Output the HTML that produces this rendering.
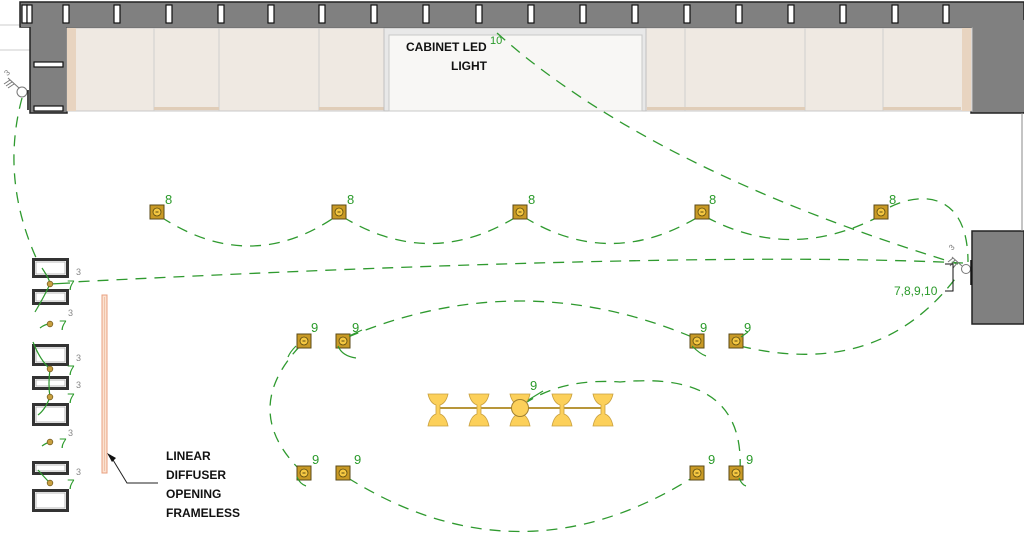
<!DOCTYPE html>
<html><head><meta charset="utf-8"><style>
html,body{margin:0;padding:0;background:#fff;}
svg{display:block;}
text{font-family:"Liberation Sans",sans-serif;}
</style></head><body>
<svg width="1024" height="557" viewBox="0 0 1024 557" xmlns="http://www.w3.org/2000/svg">
<defs>
<g id="sq"><rect x="-7" y="-7" width="14" height="14" fill="#c99a25" stroke="#5a4a18" stroke-width="1"/><circle r="4" fill="#f5c842" stroke="#5a4a10" stroke-width="0.8"/><rect x="-1.5" y="-0.5" width="3" height="1" fill="#5a4a10"/></g>
<g id="bell"><path d="M-10,-16 L10,-16 Q8,-7 2,-5 L2,4 Q8,6 10,16 L-10,16 Q-8,6 -2,4 L-2,-5 Q-8,-7 -10,-16Z" fill="#fcd05a" stroke="#c8a040" stroke-width="0.8"/></g>
</defs>
<line x1="0" y1="25" x2="20" y2="25" stroke="#ccc"/>
<line x1="0" y1="50" x2="30" y2="50" stroke="#ccc"/>
<rect x="20" y="2" width="1004" height="25" fill="#808080" stroke="#222" stroke-width="1.5"/>
<rect x="30" y="26" width="37" height="87" fill="#808080" stroke="#222" stroke-width="1.5"/>
<rect x="971" y="26" width="53" height="87" fill="#808080" stroke="#222" stroke-width="1.5"/>
<rect x="21" y="3" width="1002" height="24" fill="#808080"/>
<rect x="31" y="20" width="35" height="92" fill="#808080"/>
<rect x="972" y="20" width="52" height="92" fill="#808080"/>
<g fill="#fff" stroke="#111" stroke-width="1.2">
<rect x="22" y="5" width="5" height="18"/><rect x="27" y="5" width="5" height="18"/>
<rect x="63" y="5" width="6" height="18"/><rect x="114" y="5" width="6" height="18"/><rect x="166" y="5" width="6" height="18"/><rect x="218" y="5" width="6" height="18"/><rect x="268" y="5" width="6" height="18"/><rect x="319" y="5" width="6" height="18"/><rect x="371" y="5" width="6" height="18"/><rect x="423" y="5" width="6" height="18"/><rect x="476" y="5" width="6" height="18"/><rect x="528" y="5" width="6" height="18"/><rect x="580" y="5" width="6" height="18"/><rect x="632" y="5" width="6" height="18"/><rect x="684" y="5" width="6" height="18"/><rect x="736" y="5" width="6" height="18"/><rect x="788" y="5" width="6" height="18"/><rect x="840" y="5" width="6" height="18"/><rect x="892" y="5" width="6" height="18"/><rect x="943" y="5" width="6" height="18"/>
<rect x="34" y="62" width="29" height="5"/><rect x="34" y="106" width="29" height="5"/>
</g>
<rect x="972" y="231" width="52" height="93" fill="#808080" stroke="#222" stroke-width="1.5"/>
<line x1="1022" y1="113" x2="1022" y2="231" stroke="#888"/>
<rect x="67" y="28" width="905" height="83" fill="#efe9e2" stroke="#c8c8c8"/>
<rect x="67" y="28" width="9" height="83" fill="#e8d4c0"/>
<rect x="962" y="28" width="9" height="83" fill="#e8d4c0"/>
<g stroke="#cfcfcf" stroke-width="1">
<line x1="154" y1="28" x2="154" y2="111"/><line x1="219" y1="28" x2="219" y2="111"/><line x1="319" y1="28" x2="319" y2="111"/><line x1="685" y1="28" x2="685" y2="111"/><line x1="805" y1="28" x2="805" y2="111"/><line x1="883" y1="28" x2="883" y2="111"/>
</g>
<rect x="154" y="107" width="65" height="3" fill="#e0cdb8"/><rect x="319" y="107" width="65" height="3" fill="#e0cdb8"/><rect x="647" y="107" width="158" height="3" fill="#e0cdb8"/><rect x="883" y="107" width="78" height="3" fill="#e0cdb8"/>
<rect x="384" y="28" width="262" height="83" fill="#e8e8e8" stroke="#c0c0c0"/>
<rect x="389" y="35" width="253" height="76" fill="#f8f7f5" stroke="#c8c8c8"/>
<text x="406" y="51" font-size="12" font-weight="bold" fill="#111">CABINET LED</text>
<text x="451" y="70" font-size="12" font-weight="bold" fill="#111">LIGHT</text>
<text x="490" y="44" font-size="11" fill="#2a9a2a">10</text>
<g fill="none" stroke="#2f9a2f" stroke-width="1.3" stroke-dasharray="11,8">
<path d="M497,33 Q650,170 958,264"/>
<path d="M890,207 C925,190 968,195 968,262"/>
<path d="M963,263 Q700,250 72,282"/>
<path d="M161,217 Q250,275 335,217"/>
<path d="M343,217 Q430,270 516,217"/>
<path d="M524,217 Q610,270 698,217"/>
<path d="M706,217 Q790,262 878,217"/>
<path d="M348,337 Q520,265 692,337"/>
<path d="M740,346 Q880,380 958,275"/>
<path d="M300,346 Q240,410 300,470"/>
<path d="M348,478 Q520,585 692,478"/>
<path d="M740,470 Q745,370 620,382 Q565,378 527,402"/>
<path d="M22,98 Q0,180 38,262"/>
</g>
<circle cx="22" cy="92" r="5" fill="#fff" stroke="#777"/>
<path d="M19,88 L8,78 M12,82 L6,86 M10,80 L4,84 M14,84 L8,88" stroke="#777" fill="none"/>
<text x="4" y="76" font-size="8" fill="#777" transform="rotate(-45 6 72)">3</text>
<line x1="28" y1="90" x2="28" y2="110" stroke="#111" stroke-width="1.5"/>
<circle cx="966" cy="269" r="4.5" fill="#fff" stroke="#777"/>
<path d="M962,266 L952,257 M955,260 L950,266 M958,262 L953,268 M953,258 L948,262" stroke="#777" fill="none"/>
<text x="950" y="250" font-size="8" fill="#777" transform="rotate(-45 952 248)">3</text>
<line x1="971" y1="260" x2="971" y2="285" stroke="#111" stroke-width="1.5"/>
<path d="M945,264 L953,264 L953,291 L945,291" stroke="#111" fill="none"/>
<text x="894" y="295" font-size="12" fill="#2a9a2a">7,8,9,10</text>
<g fill="#2a9a2a" font-size="13">
<use href="#sq" x="157" y="212"/><text x="165" y="204">8</text>
<use href="#sq" x="339" y="212"/><text x="347" y="204">8</text>
<use href="#sq" x="520" y="212"/><text x="528" y="204">8</text>
<use href="#sq" x="702" y="212"/><text x="709" y="204">8</text>
<use href="#sq" x="881" y="212"/><text x="889" y="204">8</text>
<use href="#sq" x="304" y="341"/><text x="311" y="332">9</text>
<use href="#sq" x="343" y="341"/><text x="352" y="332">9</text>
<use href="#sq" x="697" y="341"/><text x="700" y="332">9</text>
<use href="#sq" x="736" y="341"/><text x="744" y="332">9</text>
<use href="#sq" x="304" y="473"/><text x="312" y="464">9</text>
<use href="#sq" x="343" y="473"/><text x="354" y="464">9</text>
<use href="#sq" x="697" y="473"/><text x="708" y="464">9</text>
<use href="#sq" x="736" y="473"/><text x="746" y="464">9</text>
<text x="530" y="390">9</text>
</g>
<g stroke="#2f9a2f" stroke-width="1.2" fill="none">
<path d="M296,346 Q290,352 288,357"/><path d="M338,346 Q342,356 356,358"/><path d="M349,336 L362,330"/>
<path d="M692,346 Q700,354 706,356"/><path d="M741,337 L748,332"/>
<path d="M297,477 Q300,484 306,486"/><path d="M739,478 Q742,485 746,486"/>
<path d="M525,402 L543,391"/>
</g>
<line x1="438" y1="408" x2="604" y2="408" stroke="#b8963a" stroke-width="2"/>
<use href="#bell" x="438" y="410"/><use href="#bell" x="479" y="410"/><use href="#bell" x="520" y="410"/><use href="#bell" x="562" y="410"/><use href="#bell" x="603" y="410"/>
<circle cx="520" cy="408" r="8.5" fill="#fcd05a" stroke="#a08030"/>
<g fill="#fff" stroke="#333" stroke-width="3">
<rect x="33.5" y="259.5" width="34" height="17"/><rect x="33.5" y="290.5" width="34" height="13"/><rect x="33.5" y="345.5" width="34" height="19"/><rect x="33.5" y="377.5" width="34" height="11"/><rect x="33.5" y="404.5" width="34" height="20"/><rect x="33.5" y="462.5" width="34" height="11"/><rect x="33.5" y="490.5" width="34" height="20"/>
</g>
<g fill="none" stroke="#aaa" stroke-width="0.8">
<rect x="36" y="262" width="29" height="12"/><rect x="36" y="293" width="29" height="8"/><rect x="36" y="348" width="29" height="14"/><rect x="36" y="380" width="29" height="6"/><rect x="36" y="407" width="29" height="15"/><rect x="36" y="465" width="29" height="6"/><rect x="36" y="493" width="29" height="15"/>
</g>
<g stroke="#2f9a2f" stroke-width="1.2" fill="none">
<path d="M42,268 Q50,280 50,284 Q45,295 35,312"/><path d="M50,284 L70,283"/>
<path d="M40,328 Q45,324 50,324"/>
<path d="M33,342 Q40,360 50,369 Q48,385 50,397 Q45,410 38,415"/>
<path d="M42,446 Q46,443 50,442"/>
<path d="M38,470 Q45,478 50,483"/>
</g>
<g fill="#c8a040" stroke="#7a6020" stroke-width="0.8">
<circle cx="50" cy="284" r="2.8"/><circle cx="50" cy="324" r="2.8"/><circle cx="50" cy="369" r="2.8"/><circle cx="50" cy="397" r="2.8"/><circle cx="50" cy="442" r="2.8"/><circle cx="50" cy="483" r="2.8"/>
</g>
<g fill="#2a9a2a" font-size="14">
<text x="67" y="290">7</text><text x="59" y="330">7</text><text x="67" y="375">7</text><text x="67" y="403">7</text><text x="59" y="448">7</text><text x="67" y="489">7</text>
</g>
<g fill="#888" font-size="9">
<text x="76" y="275">3</text><text x="68" y="316">3</text><text x="76" y="361">3</text><text x="76" y="388">3</text><text x="68" y="436">3</text><text x="76" y="475">3</text>
</g>
<rect x="102" y="295" width="5" height="178" fill="#fbe2d2" stroke="#e8a080"/>
<line x1="104.5" y1="297" x2="104.5" y2="471" stroke="#eab08e" stroke-width="0.6"/>
<path d="M110,455 L127,483 L158,483" stroke="#222" fill="none"/>
<path d="M107,453 L116,458 L112,462Z" fill="#111"/>
<g font-size="12" font-weight="bold" fill="#111">
<text x="166" y="460">LINEAR</text><text x="166" y="479">DIFFUSER</text><text x="166" y="498">OPENING</text><text x="166" y="517">FRAMELESS</text>
</g>
</svg>
</body></html>
